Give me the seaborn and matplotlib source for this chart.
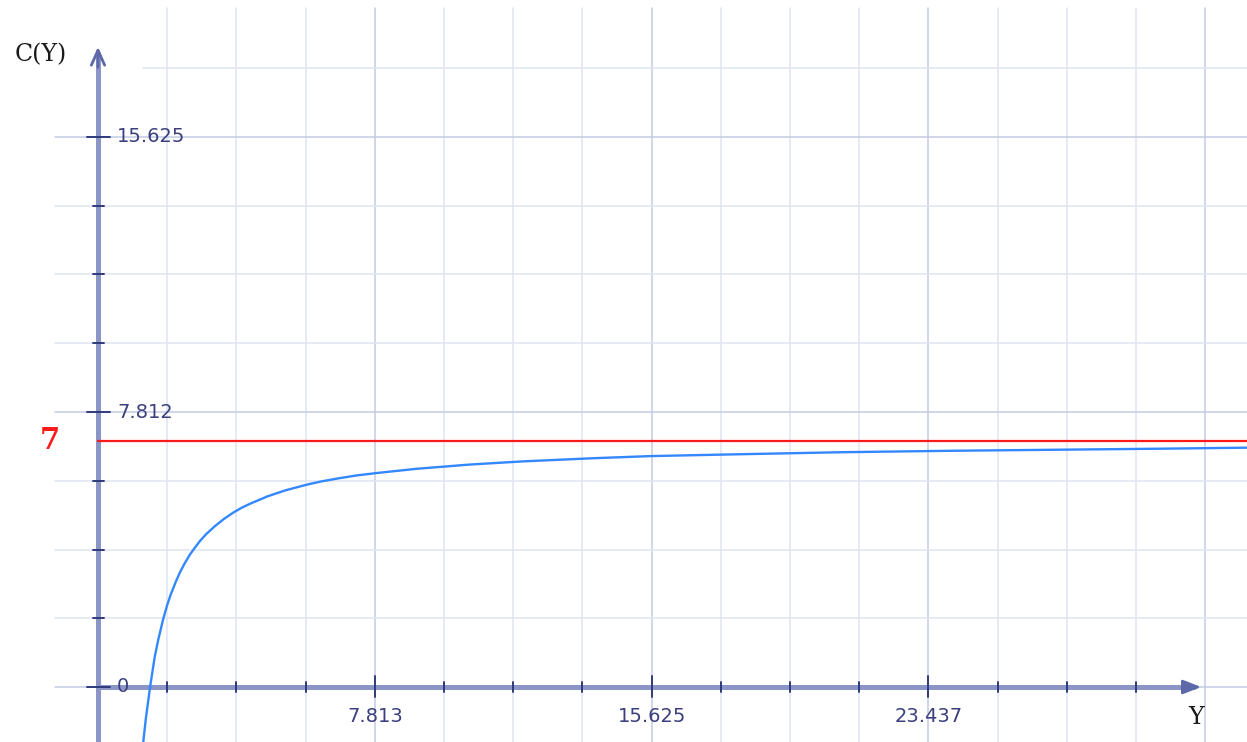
import numpy as np
import matplotlib
matplotlib.use("Agg")
import matplotlib.pyplot as plt
import seaborn as sns
import pandas as pd

# values
y_values = [1.24, 1.35, 1.47, 1.6, 1.7, 1.84, 1.95, 2.05, 2.2, 2.32, 2.45, 2.6,
            2.75, 2.88, 3.05, 3.3, 3.55, 3.81, 4.05, 4.3, 4.77, 5.0, 5.3, 5.9,
            6.3, 6.8, 7.3, 7.88, 9.0, 10.5, 12.0, 14.0, 15.6, 18.0, 21.0, 24.0,
            27.0, 30.0, 32.5]
c_values = [-1.9, -0.9, 0.0, 0.85, 1.34, 1.93, 2.32, 2.62, 3.0, 3.27, 3.52, 3.77,
            3.98, 4.15, 4.34, 4.57, 4.77, 4.95, 5.09, 5.21, 5.41, 5.49, 5.59, 5.75,
            5.84, 5.93, 6.01, 6.08, 6.2, 6.32, 6.41, 6.5, 6.56, 6.61, 6.67, 6.71,
            6.74, 6.77, 6.8]
asymptote = 7
grid_step = 7.8125 / 4
x_tick_values = [7.8125, 15.625, 23.4375]
x_tick_labels = ["7.813", "15.625", "23.437"]
y_tick_values = [0, 7.8125, 15.625]
y_tick_labels = ["0", "7.812", "15.625"]

# pixel geometry of the reference (1247 x 742)
W, H = 1247, 742
ox, oy = 98, 687            # origin in pixels
sx = 69.2 / grid_step       # px per unit, x
sy = 68.75 / grid_step      # px per unit, y


def px(p):
    return (p - ox) / sx


def py(p):
    return (oy - p) / sy


sns.set_theme(style="white")
fig = plt.figure(figsize=(W / 100, H / 100), dpi=100)
ax = fig.add_axes([0, 0, 1, 1])

grid_light = "#dfe4f1"
grid_major = "#c3cbe2"
axis_col = "#8b95c6"
tick_col = "#2e3a7c"
text_col = "#3b3f7e"

# grid
for i in range(1, 17):
    gx = i * grid_step
    col = grid_major if i % 4 == 0 else grid_light
    ax.plot([gx, gx], [py(H), py(8)], color=col, lw=1.1, zorder=1)
for j in range(0, 10):
    gy = j * grid_step
    col = grid_major if j % 4 == 0 else grid_light
    left = px(143) if j == 9 else px(55)
    ax.plot([left, px(W)], [gy, gy], color=col, lw=1.1, zorder=1)

# axes with arrows
ax.plot([0, px(1195)], [0, 0], color=axis_col, lw=3.6, zorder=2, solid_capstyle="butt")
ax.plot([0, 0], [py(H), py(52)], color=axis_col, lw=3.6, zorder=2, solid_capstyle="butt")
ax.annotate("", xy=(px(1204), 0), xytext=(px(1180), 0),
            arrowprops=dict(arrowstyle="-|>,head_length=0.9,head_width=0.35",
                            color="#5c68a8", lw=2), zorder=3)
ax.annotate("", xy=(0, py(44)), xytext=(0, py(70)),
            arrowprops=dict(arrowstyle="->,head_length=0.9,head_width=0.4",
                            color="#5c68a8", lw=2), zorder=3)

# tick marks
for i in range(1, 16):
    gx = i * grid_step
    if i % 4 == 0:
        ax.plot([gx, gx], [py(697), py(676)], color=tick_col, lw=1.4, zorder=4)
    else:
        ax.plot([gx, gx], [py(692), py(682)], color=tick_col, lw=1.4, zorder=4)
for j in range(0, 9):
    gy = j * grid_step
    if j % 4 == 0:
        ax.plot([px(87), px(110)], [gy, gy], color=tick_col, lw=1.4, zorder=4)
    else:
        ax.plot([px(93), px(104)], [gy, gy], color=tick_col, lw=1.4, zorder=4)

# tick labels
for v, lab in zip(x_tick_values, x_tick_labels):
    ax.text(v, py(716), lab, ha="center", va="center", fontsize=14,
            color=text_col, family="DejaVu Sans", zorder=5)
for v, lab in zip(y_tick_values, y_tick_labels):
    ax.text(px(117), v, lab, ha="left", va="center", fontsize=14,
            color=text_col, family="DejaVu Sans", zorder=5)

# asymptote and curve
ax.plot([0, px(W)], [asymptote, asymptote], color="#ff1a1a", lw=1.6, zorder=6)
df = pd.DataFrame({"Y": y_values, "C": c_values})
sns.lineplot(data=df, x="Y", y="C", ax=ax, color="#3388ff", lw=1.7, zorder=7,
             sort=False, estimator=None)
ax.set_xlim(px(0), px(W))
ax.set_ylim(py(H), py(0))
ax.axis("off")

# labels
ax.text(px(41), py(55), "C(Y)", ha="center", va="center", fontsize=17,
        family="DejaVu Serif", color="#1a1a1a")
ax.text(px(1196), py(718), "Y", ha="center", va="center", fontsize=17,
        family="DejaVu Serif", color="#1a1a1a")
ax.text(px(50), asymptote, "7", ha="center", va="center", fontsize=21,
        family="DejaVu Serif", fontweight="bold", color="#ff1a1a")

fig.savefig("out.png", dpi=100)
